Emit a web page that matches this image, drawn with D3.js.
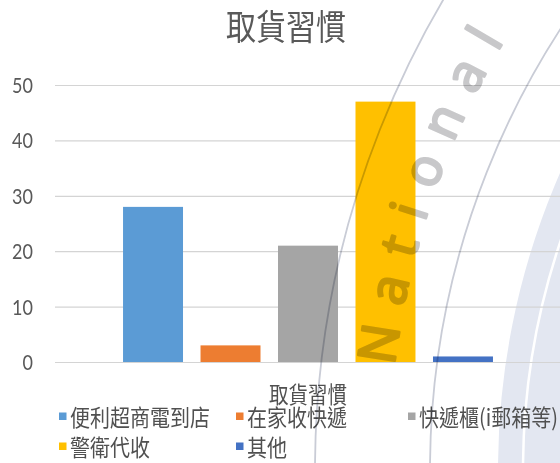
<!DOCTYPE html>
<html>
<head>
<meta charset="utf-8">
<script src="https://cdn.jsdelivr.net/npm/d3@7/dist/d3.min.js"></script>
<style>
  html, body { margin: 0; padding: 0; background: #fff; }
  svg { display: block; }
  .mark { mix-blend-mode: multiply; }
</style>
</head>
<body>
<svg id="chart" width="560" height="463"></svg>
<script>
// Chart data
const chartTitle = "取貨習慣";
const categories = ["取貨習慣"];
const seriesNames = ["便利超商電到店", "在家收快遞", "快遞櫃(i郵箱等)", "警衛代收", "其他"];
const seriesValues = [28, 3, 21, 47, 1];
const seriesColors = ["#5B9BD5", "#ED7D31", "#A5A5A5", "#FFC000", "#4472C4"];
const yTicks = [0, 10, 20, 30, 40, 50];

const W = 560, H = 463;
const plot = { left: 55, right: 561, top: 85, bottom: 362 };
const cjk = "'Noto Sans CJK TC', 'Noto Sans CJK SC', sans-serif";
const textColor = "#595959";
const stretch = 1.16; // text in this layout is drawn slightly tall

const svg = d3.select("#chart");

// Seal-style background ornament (large ring centred off to the right)
const seal = { cx: 1240, cy: 470 };
const bg = svg.append("g");
bg.append("path")
  .attr("d", d3.arc().innerRadius(560).outerRadius(742).startAngle(-Math.PI).endAngle(0)())
  .attr("transform", `translate(${seal.cx},${seal.cy})`)
  .attr("fill", "#e3e7f1");
bg.append("circle")
  .attr("cx", seal.cx).attr("cy", seal.cy).attr("r", 717)
  .attr("fill", "none").attr("stroke", "#ffffff").attr("stroke-width", 2.5);

// Scales
const y = d3.scaleLinear().domain([0, 50]).range([plot.bottom, plot.top]);
const x0 = d3.scaleBand().domain(categories).range([plot.left, plot.right])
  .paddingInner(0).paddingOuter(0.153);
const x1 = d3.scaleBand().domain(seriesNames).range([0, x0.bandwidth()])
  .paddingInner(0.226).paddingOuter(0.113);

// Gridlines
const grid = svg.append("g")
  .attr("transform", `translate(${plot.left},0)`)
  .call(d3.axisLeft(y).tickValues(yTicks).tickSize(-(W - plot.left)).tickFormat(""));
grid.select(".domain").remove();
grid.selectAll("line").attr("stroke", "#d4d4d4").attr("stroke-width", 1.2);

// Y tick labels
const yAxis = svg.append("g")
  .attr("transform", "translate(33,0)")
  .call(d3.axisLeft(y).tickValues(yTicks).tickSize(0).tickPadding(0));
yAxis.select(".domain").remove();
yAxis.selectAll("text")
  .attr("dy", null)
  .attr("dominant-baseline", "central")
  .attr("y", 0)
  .style("font-family", "Lato, 'Noto Sans', sans-serif")
  .style("font-size", "18px")
  .attr("fill", textColor);
yAxis.selectAll(".tick")
  .attr("transform", d => `translate(0,${y(d)}) scale(1,${stretch})`);

// Bars
const group = svg.append("g").selectAll("g")
  .data(categories)
  .join("g")
  .attr("transform", d => `translate(${x0(d)},0)`);
group.selectAll("rect")
  .data(seriesNames.map((name, i) => ({ name, value: seriesValues[i], color: seriesColors[i] })))
  .join("rect")
  .attr("x", d => x1(d.name))
  .attr("y", d => y(d.value))
  .attr("width", x1.bandwidth())
  .attr("height", d => y(0) - y(d.value))
  .attr("fill", d => d.color);

// Helper for vertically stretched text
function label(parent, x, yPos, text, size, anchor, fill) {
  return parent.append("g")
    .attr("transform", `translate(${x},${yPos}) scale(1,${stretch})`)
    .append("text")
    .attr("text-anchor", anchor)
    .attr("dominant-baseline", "central")
    .style("font-family", cjk)
    .style("font-size", size + "px")
    .attr("fill", fill)
    .text(text);
}

// Title
label(svg, 286, 24, chartTitle, 30, "middle", textColor);

// Category axis label
label(svg, x0(categories[0]) + x0.bandwidth() / 2, 393, categories[0], 19.5, "middle", "#505050");

// Legend
const legendCols = [59, 236, 408];
const legendRows = [416, 446];
const legend = svg.append("g");
seriesNames.forEach((name, i) => {
  const lx = legendCols[i % 3];
  const ly = legendRows[Math.floor(i / 3)];
  legend.append("rect")
    .attr("x", lx).attr("y", ly - 3.5)
    .attr("width", 7.5).attr("height", 7.5)
    .attr("fill", seriesColors[i]);
  label(legend, lx + 11, ly, name, 20, "start", "#505050");
});

// Seal ornament lines and lettering, printed over the chart
const over = svg.append("g").attr("class", "mark");
[925, 810].forEach(r => {
  over.append("circle")
    .attr("cx", seal.cx).attr("cy", seal.cy).attr("r", r)
    .attr("fill", "none").attr("stroke", "#c9ccd6").attr("stroke-width", 1.8);
});
const rText = 852;
const a0 = Math.PI * 0.98, a1 = Math.PI * 1.4;
over.append("path")
  .attr("id", "sealRing")
  .attr("fill", "none")
  .attr("d", `M${seal.cx + rText * Math.cos(a0)},${seal.cy + rText * Math.sin(a0)}
              A${rText},${rText} 0 0 1 ${seal.cx + rText * Math.cos(a1)},${seal.cy + rText * Math.sin(a1)}`);
over.append("text")
  .style("font-family", "'Open Sans', Lato, sans-serif")
  .style("font-size", "52px")
  .style("letter-spacing", "20px")
  .attr("fill", "#c8c8ca")
  .attr("stroke", "#c8c8ca")
  .attr("stroke-width", 2.5)
  .attr("stroke-linejoin", "round")
  .attr("stroke-linecap", "round")
  .append("textPath")
  .attr("href", "#sealRing")
  .attr("startOffset", 158)
  .text("National");
</script>
</body>
</html>
